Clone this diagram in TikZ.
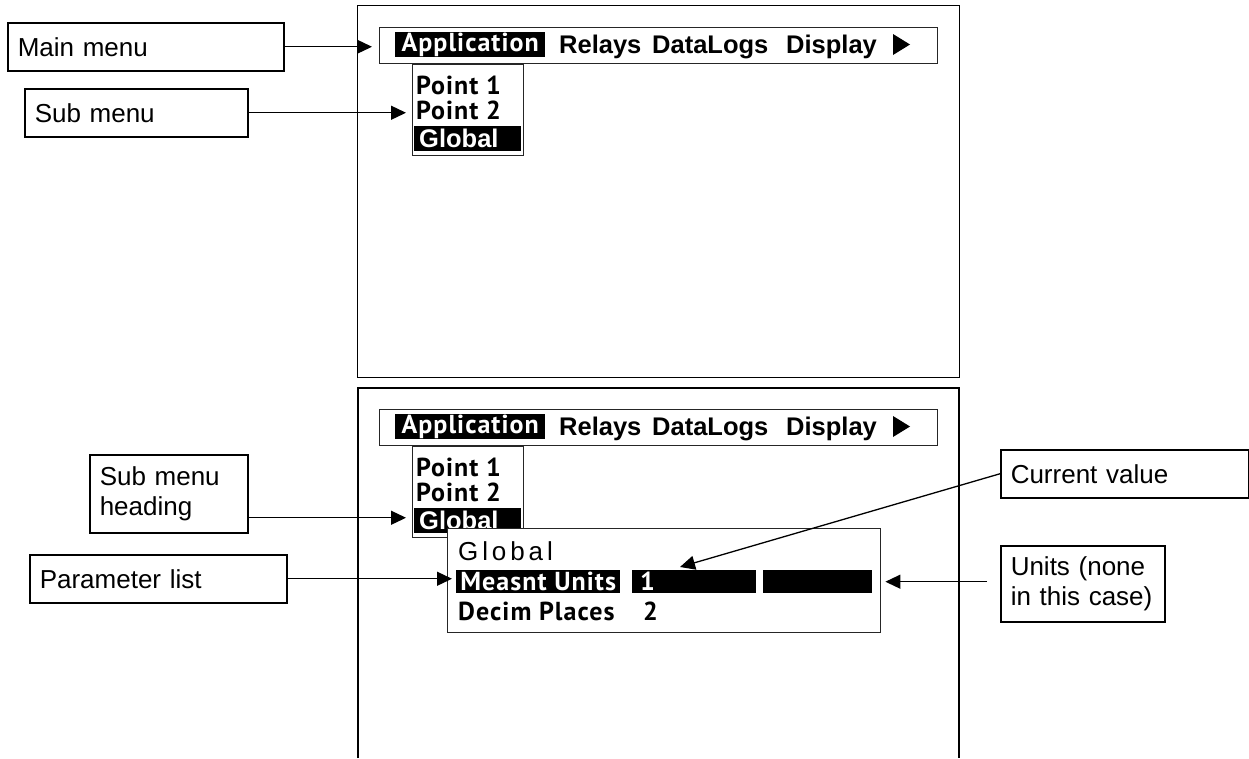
\documentclass[tikz,border=0pt]{standalone}
\usepackage{fontspec}
\usetikzlibrary{arrows.meta}
\newfontfamily\labfont{Liberation Sans}
\newfontfamily\lcdfont[LetterSpace=4]{PT Sans}
\newfontfamily\ttlfont[LetterSpace=15]{Liberation Sans}
\tikzset{
  lbl/.style={draw, line width=1.5pt, anchor=north west, inner xsep=10pt, inner ysep=0pt, align=left,
    font=\labfont\fontsize{26}{30}\selectfont},
  ptr/.style={line width=1.3pt, -{Triangle[length=15pt,width=14pt]}},
  lcdbox/.style={draw=black!85, line width=1.1pt, anchor=north west, inner sep=0pt},
  hl/.style={fill=black, text=white, inner sep=0pt, anchor=north west},
  lcdf/.style={font=\lcdfont\bfseries\fontsize{26}{28}\selectfont},
  menuf/.style={font=\labfont\bfseries\fontsize{25.5}{28}\selectfont},
  lcdtxt/.style={lcdf, inner sep=0pt, anchor=base west},
  menutxt/.style={menuf, inner sep=0pt, anchor=base west},
  screen/.style={line width=1.3pt},
}
\newcommand\drawlcdmenu{%
  \node[lcdbox, minimum width=558pt, minimum height=36pt] (bar) at (379,27) {};
  \node[hl, lcdf, minimum width=150pt, minimum height=25pt] (app) at (395,32) {Application};
  \node[menutxt] (relays) at (559,53) {Relays};
  \node[menutxt] (datalogs) at (652,53) {DataLogs};
  \node[menutxt] (display) at (786,53) {Display};
  \fill (893,34) -- (893,55) -- (910,44.5) -- cycle;
  \node[lcdbox, minimum width=111pt, minimum height=91pt] (sub) at (412,64) {};
  \node[lcdtxt] (p1) at (416,94) {Point 1};
  \node[lcdtxt] (p2) at (416,119) {Point 2};
  \node[hl, menuf, minimum height=25pt, inner xsep=5pt, text width=97pt, align=left] (glob) at (414,126) {Global};
}
\begin{document}
\begin{tikzpicture}[x=1pt,y=-1pt]
\useasboundingbox (0,0) rectangle (1249,758);
% screens
\node[screen, draw, anchor=north west, minimum width=602pt, minimum height=372pt, inner sep=0pt] (scr1) at (357,5) {};
\draw[screen] (358,758) -- (358,388) -- (959,388) -- (959,758);
% menus
\begin{scope}[name prefix=t-]
  \drawlcdmenu
\end{scope}
\begin{scope}[shift={(0,382)}, name prefix=b-]
  \drawlcdmenu
\end{scope}
% popup
\node[lcdbox, fill=white, minimum width=433pt, minimum height=104pt] (pop) at (447,528) {};
\node[font=\ttlfont\fontsize{26}{30}\selectfont, inner sep=0pt, anchor=base west] (ptitle) at (458,560) {Global};
\node[hl, lcdf, minimum width=164pt, minimum height=23pt] (meas) at (456,570) {Measnt Units};
\node[hl, lcdf, minimum height=23pt, inner xsep=8pt, text width=108pt, align=left] (box1) at (632,570) {1};
\node[hl, minimum width=109pt, minimum height=23pt] (box2) at (763,570) {};
\node[lcdtxt] (decim) at (458,620) {Decim Places};
\node[lcdtxt] (two) at (643,620) {2};
% labels
\node[lbl, minimum height=48pt, text width=256pt] (mainlbl) at (7,22) {Main menu};
\node[lbl, minimum height=48pt, text width=203pt] (sublbl) at (24,88) {Sub menu};
\node[lbl, minimum height=78pt, text width=138pt] (headlbl) at (89,454) {Sub menu\\heading};
\node[lbl, minimum height=48pt, text width=237pt] (paramlbl) at (29,554) {Parameter list};
\node[lbl, minimum height=48pt, text width=228pt] (curlbl) at (1000,449) {Current value};
\node[lbl, minimum height=76pt, text width=144pt] (unitslbl) at (1000,545) {Units (none\\in this case)};
% connectors
\draw[ptr, shorten >=7pt] (mainlbl.east) -- (mainlbl.east -| t-bar.west);
\draw[ptr, shorten >=6pt] (sublbl.east) -- (sublbl.east -| t-sub.west);
\coordinate (hd) at ([yshift=-24pt]headlbl.east);
\draw[ptr, shorten >=6pt] (hd) -- (hd -| b-sub.west);
\draw[ptr, shorten >=4pt] (paramlbl.east) -- (paramlbl.east -| meas.west);
\coordinate (cvtip) at (680,567);
\draw[ptr] (curlbl.west) -- (cvtip);
\draw[ptr, shorten <=13pt, shorten >=13pt] (unitslbl.west |- box2.east) -- (box2.east);
\end{tikzpicture}
\end{document}
